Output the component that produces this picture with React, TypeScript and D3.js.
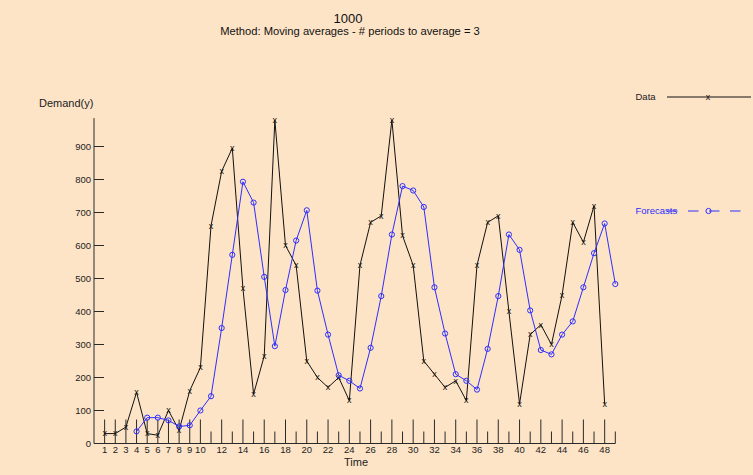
import React from "react";
import * as d3 from "d3";

const periods: number[] = d3.range(1, 49);
const demand: number[] = [
  30, 30, 50, 155, 30, 25, 100, 40, 160, 230,
  660, 825, 895, 470, 150, 265, 980, 600, 540, 250,
  200, 170, 200, 130, 540, 670, 690, 980, 630, 540,
  250, 210, 170, 190, 130, 540, 670, 690, 400, 120,
  330, 360, 300, 450, 670, 610, 720, 120,
];
const forecastPeriods: number[] = d3.range(4, 50);
const forecast: number[] = [
  36.7, 78.3, 78.3, 70, 51.7, 55, 100, 143.3, 350, 571.7,
  793.3, 730, 505, 295, 465, 615, 706.7, 463.3, 330, 206.7,
  190, 166.7, 290, 446.7, 633.3, 780, 766.7, 716.7, 473.3, 333.3,
  210, 190, 163.3, 286.7, 446.7, 633.3, 586.7, 403.3, 283.3, 270,
  330, 370, 473.3, 576.7, 666.7, 483.3,
];
const yTicks: number[] = [100, 200, 300, 400, 500, 600, 700, 800, 900];
const xTickValues: number[] = d3.range(1, 50);
const xLabelValues: number[] = [1, 2, 3, 4, 5, 6, 7, 8, 9, 10, 12, 14, 16, 18, 20, 22, 24, 26, 28, 30, 32, 34, 36, 38, 40, 42, 44, 46, 48];

const title = "1000";
const subtitle = "Method: Moving averages - # periods to average = 3";

const W = 753;
const H = 475;
const BG = "#FDE4C6";
const BLUE = "#2E2EFF";
const FONT = "'Liberation Sans', Arial, sans-serif";

export default function App() {
  const x = d3.scaleLinear().domain([0, 49]).range([94, 615.3]);
  const y = d3.scaleLinear().domain([0, 1000]).range([443.5, 113.5]);

  const line = d3
    .line<[number, number]>()
    .x((d) => x(d[0]))
    .y((d) => y(d[1]));

  const dataPts: [number, number][] = periods.map((p, i) => [p, demand[i]]);
  const fcPts: [number, number][] = forecastPeriods.map((p, i) => [p, forecast[i]]);

  const axisColor = "#2a2a2a";

  return (
    <div style={{ position: "absolute", left: 0, top: 0, width: W, height: H, background: BG }}>
      <svg width={W} height={H} style={{ display: "block" }} fontFamily={FONT}>
        <rect x={0} y={0} width={W} height={H} fill={BG} />
        <text x={348} y={22.5} fontSize={13} textAnchor="middle" fill="#111">{title}</text>
        <text x={350} y={35} fontSize={11.2} textAnchor="middle" fill="#111">{subtitle}</text>

        <text x={39} y={107} fontSize={11} fill="#222">Demand(y)</text>

        {/* y axis */}
        <line x1={x(0)} x2={x(0)} y1={y(0)} y2={y(986)} stroke={axisColor} strokeWidth={1} />
        {yTicks.map((t) => (
          <g key={t}>
            <line x1={x(0)} x2={x(0) + 10} y1={y(t)} y2={y(t)} stroke={axisColor} strokeWidth={1} />
            <text x={x(0) - 3} y={y(t) + 3.5} fontSize={9.5} textAnchor="end" fill="#222">{t}</text>
          </g>
        ))}
        <text x={x(0) - 3} y={y(0) + 3.5} fontSize={9.5} textAnchor="end" fill="#222">0</text>

        {/* x axis */}
        <line x1={x(0)} x2={x(49)} y1={y(0)} y2={y(0)} stroke={axisColor} strokeWidth={1} />
        {xTickValues.map((t) => {
          const long = t <= 10 || t % 2 === 0;
          return (
            <line key={t} x1={x(t)} x2={x(t)} y1={y(0)} y2={y(0) - (long ? 24 : 12)} stroke={axisColor} strokeWidth={1} />
          );
        })}
        {xLabelValues.map((t) => (
          <text key={t} x={x(t)} y={y(0) + 9} fontSize={9.5} textAnchor="middle" fill="#222">{t}</text>
        ))}
        <text x={344} y={466} fontSize={11} fill="#222">Time</text>

        {/* data series */}
        <path d={line(dataPts) || ""} fill="none" stroke="#111" strokeWidth={1} />
        {dataPts.map((d, i) => (
          <text key={i} x={x(d[0])} y={y(d[1]) + 2.8} fontSize={9} textAnchor="middle" fill="#111">x</text>
        ))}

        {/* forecast series */}
        <path d={line(fcPts) || ""} fill="none" stroke={BLUE} strokeWidth={1} />
        {fcPts.map((d, i) => (
          <circle key={i} cx={x(d[0])} cy={y(d[1])} r={2.6} fill="none" stroke={BLUE} strokeWidth={1} />
        ))}

        {/* legend */}
        <text x={635.5} y={100} fontSize={9.5} fill="#222">Data</text>
        <line x1={667} x2={751} y1={97} y2={97} stroke="#111" strokeWidth={1} />
        <text x={708} y={99.8} fontSize={9} textAnchor="middle" fill="#111">x</text>

        <text x={635.5} y={214} fontSize={9.5} fill={BLUE}>Forecasts</text>
        <line x1={667} x2={751} y1={211} y2={211} stroke={BLUE} strokeWidth={1} strokeDasharray="10.5,10.5" />
        <circle cx={708.5} cy={211} r={2.6} fill="none" stroke={BLUE} strokeWidth={1} />
      </svg>
    </div>
  );
}
